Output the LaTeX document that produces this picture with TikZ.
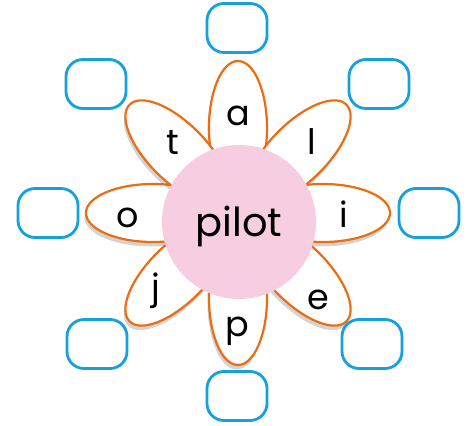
\documentclass[tikz,border=0pt]{standalone}
\usepackage{fontspec}
\setmainfont{Poppins}
\usetikzlibrary{shapes.geometric,shadows}
\definecolor{petalorange}{RGB}{236,108,18}
\definecolor{boxblue}{RGB}{22,160,222}
\definecolor{centrepink}{RGB}{247,205,225}
\begin{document}
\begin{tikzpicture}
[x=1pt,y=1pt,
 petal/.style={shape=ellipse,draw=petalorange,line width=2.2pt,fill=white,
   minimum width=134pt,minimum height=58pt,inner sep=0pt,
   drop shadow={opacity=0.35,shadow xshift=-1.5pt,shadow yshift=-4.5pt}},
 blank/.style={shape=rectangle,draw=boxblue,line width=2.8pt,rounded corners=17pt,
   minimum width=60pt,minimum height=49pt},
 letter/.style={anchor=base,inner sep=0pt,font=\fontsize{35}{35}\selectfont}]
\useasboundingbox (0,0) rectangle (473,425);
% petals
\path (238,297) node (pa) [petal,rotate=90] {}
(299,273) node (pl) [petal,rotate=45] {}
(323,212) node (pi) [petal] {}
(299,151) node (pe) [petal,rotate=-45] {}
(238,127) node (pp) [petal,rotate=90] {}
(177,151) node (pj) [petal,rotate=45] {}
(153,212) node (po) [petal] {}
(177,273) node (pt) [petal,rotate=-45] {};
% centre
\path (239,203) node (centre) [shape=circle,fill=centrepink,minimum size=154pt,
  text height=30pt,text depth=0pt,font=\fontsize{40}{40}\selectfont] {pilot};
% letters
\path (238,299) node (a) [letter] {a}
(312,270) node (l) [letter] {l}
(344,197) node (i) [letter] {i}
(318,115) node (e) [letter] {e}
(237,88) node (p) [letter] {p}
(156,125) node (j) [letter] {j}
(128,197) node (o) [letter] {o}
(173,270) node (t) [letter] {t};
% answer boxes
\path (237,397) node (b1) [blank] {}
(379,341) node (b2) [blank] {}
(429,212) node (b3) [blank] {}
(372,81) node (b4) [blank] {}
(237,29) node (b5) [blank] {}
(97,81) node (b6) [blank] {}
(48,212) node (b7) [blank] {}
(96,341) node (b8) [blank] {};
\end{tikzpicture}
\end{document}
